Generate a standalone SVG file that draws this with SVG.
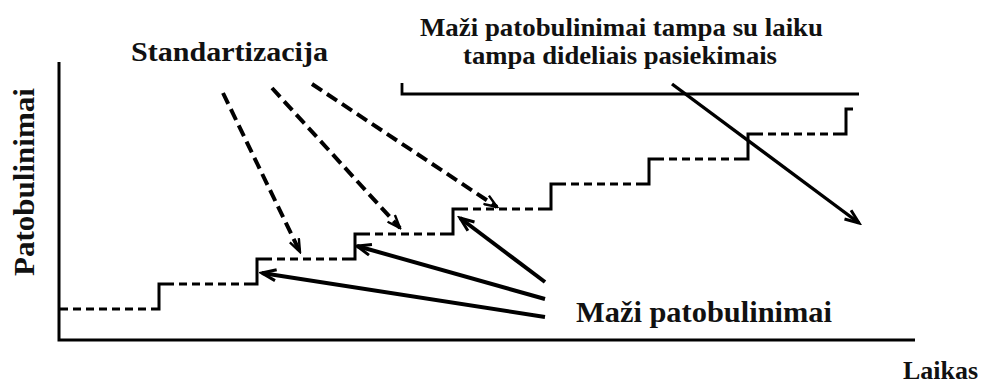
<svg xmlns="http://www.w3.org/2000/svg" width="982" height="392" viewBox="0 0 982 392">
  <style>
    text { font-family: "Liberation Serif", "Times New Roman", "DejaVu Serif", serif; font-weight: bold; fill: #111; }
    .axis { stroke: #000; stroke-width: 3; fill: none; }
    .step-dash { stroke: #000; stroke-width: 3; fill: none; stroke-dasharray: 8 5; }
    .step-rise { stroke: #000; stroke-width: 3; fill: none; stroke-linejoin: miter; }
    .std { stroke: #000; stroke-width: 4; fill: none; stroke-dasharray: 12 6; marker-end: url(#thinHead); }
    .imp { stroke: #000; stroke-width: 4; fill: none; marker-end: url(#boldHead); }
    .bracket { stroke: #000; stroke-width: 2.8; fill: none; }
    .big { stroke: #000; stroke-width: 3.4; fill: none; marker-end: url(#boldHead); }
  </style>
  <defs>
    <marker id="thinHead" markerUnits="userSpaceOnUse" viewBox="0 0 16 12" markerWidth="16" markerHeight="12" refX="14" refY="6" orient="auto">
      <path d="M1,1 L14,6 L1,11" fill="none" stroke="#000" stroke-width="2.4"/>
    </marker>
    <marker id="boldHead" markerUnits="userSpaceOnUse" viewBox="0 0 18 14" markerWidth="18" markerHeight="14" refX="15" refY="7" orient="auto">
      <path d="M1,1.5 L15,7 L1,12.5" fill="none" stroke="#000" stroke-width="3"/>
    </marker>
  </defs>

  <rect width="982" height="392" fill="#fff"/>

  <!-- axes -->
  <g id="axes">
    <path class="axis" d="M59,62 V340 H915"/>
  </g>

  <!-- staircase of small improvements -->
  <g id="staircase">
    <path class="step-dash" d="M60,309 H153 M166,284 H251 M264,259 H349 M362,234 H447 M460,209 H545 M558,184 H643 M656,159 H742 M755,134 H840"/>
    <path class="step-rise" d="M153,309 H159 V284 H166 M251,284 H257 V259 H264 M349,259 H355 V234 H362 M447,234 H453 V209 H460 M545,209 H551 V184 H558 M643,184 H649 V159 H656 M742,159 H748 V134 H755 M840,134 H846 V109 H853"/>
  </g>

  <!-- labels -->
  <g id="label-standartizacija">
    <text x="131" y="61" font-size="27" textLength="197" lengthAdjust="spacingAndGlyphs">Standartizacija</text>
  </g>
  <g id="label-pasiekimai">
    <text x="420" y="36" font-size="26" textLength="403" lengthAdjust="spacingAndGlyphs">Maži patobulinimai tampa su laiku</text>
    <text x="463" y="64" font-size="26" textLength="314" lengthAdjust="spacingAndGlyphs">tampa dideliais pasiekimais</text>
  </g>
  <g id="label-mazi">
    <text x="576" y="322" font-size="30" textLength="256" lengthAdjust="spacingAndGlyphs">Maži patobulinimai</text>
  </g>
  <g id="label-laikas">
    <text x="903" y="379" font-size="25" textLength="75" lengthAdjust="spacingAndGlyphs">Laikas</text>
  </g>
  <g id="label-patobulinimai">
    <text transform="translate(34,182) rotate(-90)" x="0" y="0" font-size="29" text-anchor="middle" textLength="188" lengthAdjust="spacingAndGlyphs">Patobulinimai</text>
  </g>

  <!-- connectors -->
  <g id="connectors">
    <path class="std" d="M223,93 L300,252"/>
    <path class="std" d="M272,88 L400,228"/>
    <path class="std" d="M312,84 L497,207"/>
    <path class="imp" d="M545,282 L460,218"/>
    <path class="imp" d="M545,299 L357,246"/>
    <path class="imp" d="M545,317 L262,273"/>
    <path class="bracket" d="M402,83 V94 H859"/>
    <path class="big" d="M672,84 L859,223"/>
  </g>
</svg>
